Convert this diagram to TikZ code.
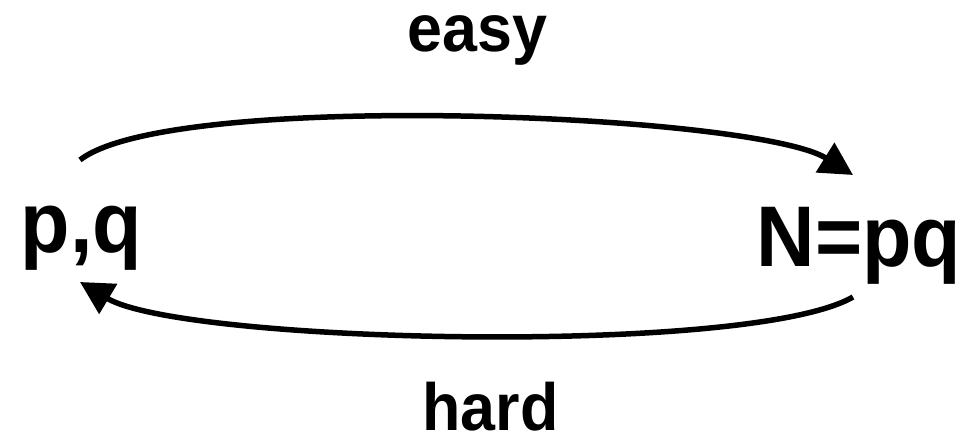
\documentclass[tikz,border=0pt]{standalone}
\usepackage{fontspec}
\setmainfont[FakeStretch=0.94]{Liberation Sans}
\usetikzlibrary{arrows.meta}
\tikzset{
  kterm/.style ={inner sep=0pt, anchor=base, font=\fontsize{49}{52}\selectfont\bfseries},
  klabel/.style={inner sep=0pt, anchor=base, font=\fontsize{38}{42}\selectfont\bfseries},
  karc/.style  ={-{Triangle[length=0.66cm, width=0.68cm]}, line width=0.11cm, black},
}

\begin{document}
\begin{tikzpicture}
  \useasboundingbox (0,0) rectangle (19.3,8.72);
  \node[kterm]  (pq)   at (1.63,3.66)  {p,q};
  \node[kterm]  (npq)  at (17.18,3.38) {N=pq};
  \node[klabel] (easy) at (9.55,7.68)  {easy};
  \node[klabel] (hard) at (9.81,0.11)  {hard};
  \draw[karc] ([shift={(-0.03,1.86)}]pq.base)
      to[out=38, in=148, out distance=2.3cm, in distance=2.3cm]
      ([shift={(-0.12,1.84)}]npq.base);
  \draw[karc] ([shift={(-0.12,-0.6)}]npq.base)
      to[out=-150, in=-31, out distance=2.38cm, in distance=2.38cm]
      ([shift={(-0.03,-0.58)}]pq.base);
\end{tikzpicture}
\end{document}
